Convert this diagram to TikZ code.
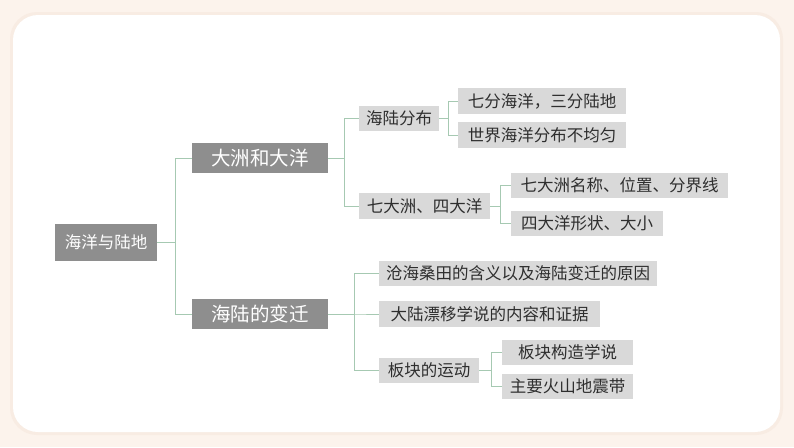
\documentclass[tikz,border=0pt]{standalone}
\usepackage{fontspec}
\newfontfamily\cjk{Noto Sans CJK SC}
\definecolor{bgc}{HTML}{FCF3EC}
\definecolor{cardedge}{HTML}{F8ECE3}
\definecolor{darkbox}{HTML}{8E8E8E}
\definecolor{lightbox}{HTML}{D9D9D9}
\definecolor{conn}{HTML}{A6C9B2}
\definecolor{txt}{HTML}{2E2E2E}
\tikzset{
  darknode/.style={fill=darkbox, text=white, inner sep=0pt, font=\cjk\fontsize{19.5}{22}\selectfont},
  lightnode/.style={fill=lightbox, text=txt, inner sep=0pt, font=\cjk\fontsize{16.5}{19}\selectfont},
  connline/.style={draw=conn, line width=0.9pt},
}
\begin{document}
\begin{tikzpicture}[x=1pt,y=-1pt]
\useasboundingbox (0,0) rectangle (794,447);
\fill[bgc] (0,0) rectangle (794,447);
\fill[cardedge, rounded corners=27pt] (10,12) rectangle (783,435);
\fill[white, rounded corners=25pt] (13,15) rectangle (780,432);

\node[darknode, minimum width=102pt, minimum height=37pt, font=\cjk\fontsize{16.5}{19}\selectfont] (root) at (106,242.5) {海洋与陆地};
\node[darknode, minimum width=136pt, minimum height=30pt] (A) at (260,158) {大洲和大洋};
\node[darknode, minimum width=136pt, minimum height=30pt] (B) at (260,314) {海陆的变迁};

\node[lightnode, minimum width=80pt, minimum height=25pt] (A1) at (399,118.5) {海陆分布};
\node[lightnode, minimum width=131pt, minimum height=26pt] (A2) at (424.5,206) {七大洲、四大洋};
\node[lightnode, minimum width=168pt, minimum height=26pt] (A11) at (542,101) {七分海洋，三分陆地};
\node[lightnode, minimum width=168pt, minimum height=26pt] (A12) at (542,135) {世界海洋分布不均匀};
\node[lightnode, minimum width=217pt, minimum height=25pt] (A21) at (619.5,185.5) {七大洲名称、位置、分界线};
\node[lightnode, minimum width=152pt, minimum height=25pt] (A22) at (587,223.5) {四大洋形状、大小};

\node[lightnode, minimum width=278pt, minimum height=25pt] (B1) at (518,273.5) {沧海桑田的含义以及海陆变迁的原因};
\node[lightnode, minimum width=221pt, minimum height=26pt] (B2) at (489.5,314) {大陆漂移学说的内容和证据};
\node[lightnode, minimum width=100pt, minimum height=25pt] (B3) at (429,370.5) {板块的运动};
\node[lightnode, minimum width=131pt, minimum height=25pt] (B31) at (567.5,352.5) {板块构造学说};
\node[lightnode, minimum width=131pt, minimum height=25pt] (B32) at (567.5,386.5) {主要火山地震带};

\foreach \c in {A,B}
  \draw[connline] (root.east) -- ([xshift=18pt]root.east) |- (\c.west);
\foreach \c in {A1,A2}
  \draw[connline] (A.east) -- ([xshift=16pt]A.east) |- (\c.west);
\foreach \c in {B1,B2,B3}
  \draw[connline] (B.east) -- ([xshift=26pt]B.east) |- (\c.west);
\foreach \c in {A11,A12}
  \draw[connline] (A1.east) -- ([xshift=9pt]A1.east) |- (\c.west);
\foreach \c in {A21,A22}
  \draw[connline] (A2.east) -- ([xshift=10pt]A2.east) |- (\c.west);
\foreach \c in {B31,B32}
  \draw[connline] (B3.east) -- ([xshift=12pt]B3.east) |- (\c.west);
\end{tikzpicture}
\end{document}
